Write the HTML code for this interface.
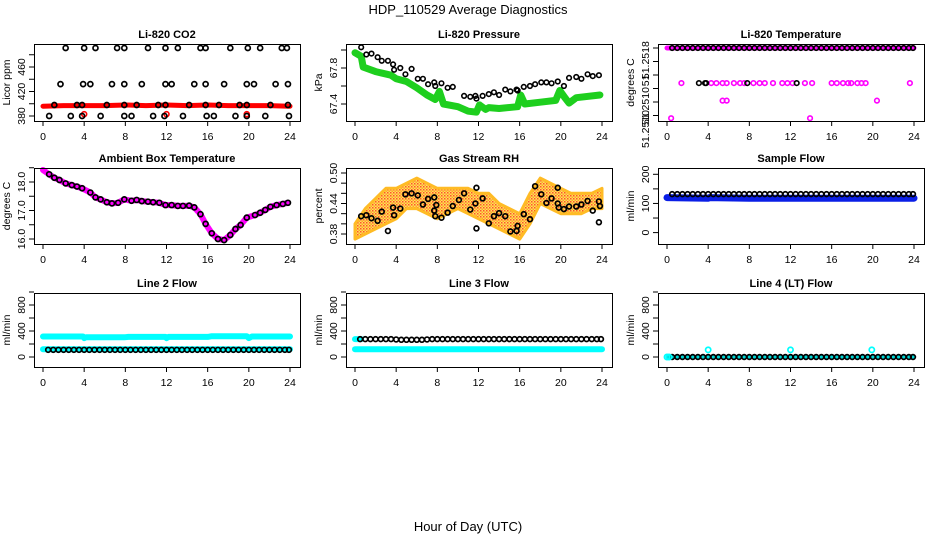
<!DOCTYPE html>
<html><head><meta charset="utf-8"><style>
html,body{margin:0;padding:0;background:#fff;}
svg{display:block;font-family:"Liberation Sans",sans-serif;}
</style></head><body>
<svg id="c" width="936" height="540" viewBox="0 0 936 540" xmlns="http://www.w3.org/2000/svg">
<defs>
<pattern id="rhpat" width="3" height="3" patternUnits="userSpaceOnUse"><rect width="3" height="3" fill="#ffd84a"/><rect width="1.5" height="1.5" fill="#ff3a00"/><rect x="1.5" y="1.5" width="1.5" height="1.5" fill="#ff9a00"/></pattern>
</defs>
<text x="468" y="14" text-anchor="middle" font-size="13">HDP_110529  Average Diagnostics</text>
<text x="468" y="531" text-anchor="middle" font-size="13">Hour of Day (UTC)</text>
</svg>
<script>
// ---------- data ----------
const hourTicks = [0,4,8,12,16,20,24];
// CO2
const co2TopHours = [2.2,4.0,5.1,7.2,7.9,10.2,11.9,13.1,15.3,15.8,18.2,19.9,21.1,23.2,23.7];
const co2MidHours = [1.7,3.9,4.6,6.7,7.9,9.6,11.9,12.5,14.7,15.8,17.6,19.8,20.5,22.6,23.8];
const co2LowHours = [1.1,3.3,3.8,6.2,7.9,9.1,11.2,11.9,14.2,15.8,17.1,19.1,19.8,22.1,23.8];
const co2BotHours = [0.6,2.7,3.8,5.6,7.9,8.6,10.7,11.8,13.6,15.9,16.6,18.7,19.8,21.6,23.9];
const co2Levels = [491,432,398,380];
const co2RedHours = [0,2,4,6,8,10,12,14,16,18,20,22,24];
const co2RedVals = [396,397,397,397,398,397,398,397,398,397,397,397,396];
const co2RedOutHours = [4.0,12.0,19.8];
const co2RedOutVals = [383,383,383];
// Pressure
const presHours = [0.6,1.1,1.6,2.2,2.6,3.2,3.7,3.8,4.4,4.9,5.5,6.1,6.6,7.1,7.7,7.8,8.4,9.0,9.5,10.6,11.2,11.7,11.8,12.4,13.0,13.5,14.0,14.6,15.1,15.7,15.8,16.4,17.0,17.5,18.1,18.6,19.1,19.7,20.3,20.8,21.5,22.0,22.6,23.1,23.7];
const presVals = [68.03,67.95,67.96,67.92,67.88,67.88,67.84,67.78,67.80,67.73,67.79,67.68,67.68,67.62,67.64,67.60,67.63,67.58,67.59,67.49,67.48,67.49,67.46,67.49,67.51,67.53,67.50,67.56,67.54,67.56,67.55,67.59,67.60,67.62,67.64,67.64,67.63,67.65,67.60,67.69,67.70,67.68,67.73,67.71,67.72];
const presGreenHours = [0,0.6,0.8,2,3.5,4,5,6,7,7.8,8.2,8.6,10,11,11.8,12.1,12.7,13,14,15.8,16.1,16.5,18,19.5,19.9,20.4,20.8,21.5,23.8];
const presGreenVals = [67.97,67.93,67.81,67.76,67.72,67.68,67.65,67.58,67.50,67.45,67.54,67.40,67.37,67.32,67.31,67.39,67.34,67.36,67.35,67.37,67.50,67.40,67.42,67.44,67.55,67.47,67.41,67.47,67.50];
// Temperature
const tempMagMidHours = [1.4,4.3,4.8,5.4,5.8,6.5,7.1,7.5,8.4,9.0,9.5,10.3,11.2,11.7,12.2,13.4,14.1,16.0,16.5,17.1,17.6,17.9,18.5,18.9,19.3,23.6];
const tempBlackMidHours = [3.1,3.7,3.8,7.8,12.6];
const tempLowHours = [5.4,5.8,20.4];
const tempBotHours = [0.4,13.9];
const tempLevels = [51.2518,51.25154,51.25141,51.25128];
const tempTickVals = [51.2518,51.2517,51.2516,51.2515,51.2514,51.2513];
const tempLabelVals = [51.25171,51.25156,51.25137,51.2512];
const tempLabelText = ["51.2518","51","51.2510","51.2510"];
// Ambient
const ambHours = [0.6,1.1,1.6,2.2,2.8,3.3,3.8,4.6,5.1,5.6,6.2,6.7,7.3,7.9,8.6,9.1,9.6,10.2,10.7,11.3,11.9,12.5,13.1,13.6,14.2,14.7,15.3,15.8,16.4,17.0,17.6,18.2,18.7,19.2,19.8,20.6,21.1,21.6,22.1,22.7,23.3,23.8];
const ambVals = [18.27,18.15,18.07,17.95,17.89,17.84,17.78,17.63,17.46,17.39,17.29,17.25,17.27,17.39,17.34,17.37,17.33,17.31,17.29,17.27,17.19,17.19,17.16,17.16,17.17,17.11,16.87,16.53,16.20,16.00,15.96,16.14,16.35,16.49,16.75,16.84,16.92,17.02,17.13,17.19,17.23,17.27];
// RH
const rhHours = [0.6,1.1,1.6,2.2,2.6,3.2,3.7,3.8,4.4,4.9,5.5,6.1,6.6,7.1,7.7,7.7,7.8,7.9,8.4,9.0,9.5,10.1,10.6,11.2,11.7,11.8,11.8,12.4,13.0,13.5,14.0,14.6,15.1,15.7,15.8,16.4,17.0,17.5,18.1,18.6,19.1,19.7,19.7,19.8,20.3,20.8,21.5,22.0,22.6,23.1,23.7,23.7,23.8];
const rhVals = [0.415,0.417,0.411,0.406,0.424,0.386,0.432,0.417,0.430,0.458,0.460,0.456,0.438,0.449,0.452,0.426,0.415,0.437,0.412,0.422,0.435,0.447,0.460,0.428,0.440,0.391,0.471,0.450,0.401,0.415,0.421,0.415,0.385,0.386,0.396,0.419,0.409,0.474,0.458,0.441,0.450,0.471,0.440,0.432,0.429,0.434,0.434,0.438,0.445,0.426,0.403,0.444,0.435];
const rhBandHours = [0,1,2,3,4,5,6,7,8,9,10,11,12,13,14,15,16,17,18,19,20,21,22,23,24];
const rhUpper = [0.40,0.43,0.45,0.47,0.47,0.48,0.49,0.48,0.47,0.47,0.47,0.47,0.46,0.46,0.44,0.43,0.42,0.46,0.49,0.48,0.47,0.46,0.46,0.46,0.47];
const rhLower = [0.37,0.38,0.39,0.40,0.41,0.43,0.43,0.42,0.41,0.42,0.43,0.42,0.41,0.40,0.39,0.38,0.37,0.40,0.44,0.43,0.42,0.42,0.42,0.43,0.43];
// Flows
const flowHours = [0.5,1,1.5,2,2.5,3,3.5,4,4.5,5,5.5,6,6.5,7,7.5,8,8.5,9,9.5,10,10.5,11,11.5,12,12.5,13,13.5,14,14.5,15,15.5,16,16.5,17,17.5,18,18.5,19,19.5,20,20.5,21,21.5,22,22.5,23,23.5,23.9];
const sampleBlack = [132,132,132,132,132,132,132,132,132,132,132,132,132,132,132,132,132,132,132,132,132,132,132,132,132,132,132,132,132,132,132,132,132,132,132,132,132,132,132,132,132,132,132,132,132,132,132,132];
const sampleBlueHours = [0,4,4.1,8,8.1,12,12.1,16,16.1,20,20.1,24];
const sampleBlueVals = [120,118,120,118,118,118,118,118,118,118,118,118];
const line2Black = [110,110,110,110,110,110,110,110,110,110,110,110,110,110,110,110,110,110,110,110,110,110,110,110,110,110,110,110,110,110,110,110,110,110,110,110,110,110,110,110,110,110,110,110,110,110,110,110];
const line2UpHours = [0,3.9,4.0,4.2,8,8.3,11.9,12.0,12.2,16,16.4,19.8,20.0,20.3,24];
const line2UpVals = [315,315,290,305,305,310,310,290,310,310,320,320,290,315,315];
const line2LowHours = [0,24];
const line2LowVals = [120,120];
const line3Black = [275,275,275,275,275,275,275,270,265,265,265,265,265,270,275,275,275,275,275,275,275,275,275,275,275,275,275,275,275,275,275,275,275,275,275,275,275,275,275,275,275,275,275,275,275,275,275,275];
const line3UpHours = [0,0.6];
const line3UpVals = [275,275];
const line3LowHours = [0,24];
const line3LowVals = [120,120];
const line4Black = [0,0,0,0,0,0,0,0,0,0,0,0,0,0,0,0,0,0,0,0,0,0,0,0,0,0,0,0,0,0,0,0,0,0,0,0,0,0,0,0,0,0,0,0,0,0,0,0];
const line4CyanHours = [0,0.2,4.0,12.0,19.9];
const line4CyanVals = [0,0,110,110,110];

// ---------- drawing ----------
const svg = document.getElementById('c');
const NS = 'http://www.w3.org/2000/svg';
function mk(tag, attrs, parent){
  const e = document.createElementNS(NS, tag);
  for (const k in attrs) e.setAttribute(k, attrs[k]);
  (parent||svg).appendChild(e);
  return e;
}
const rowsY = [[44,121],[168,244],[293,367]];
// anchors: value va at pixel pa, value vb at pixel pb
function panel(col,row,title,ylab,va,pa,vb,pb,yTicks,yLabels,name){
  const x0 = 34+312*col, x1 = x0+266;
  const [y0,y1] = rowsY[row];
  const g = mk('g',{});
  
  
  const P = {g,x0,x1,y0,y1};
  P.x = h => x0+9+h*(247/24);
  P.y = v => pa + (v-va)/(vb-va)*(pb-pa);
  const t = mk('text',{x:(x0+x1)/2,y:y0-6,'text-anchor':'middle','font-size':'11','font-weight':'bold'},g);
  t.textContent = title;
  
  
  const yl = mk('text',{x:0,y:0,'text-anchor':'middle','font-size':'10.5',transform:`translate(${x0-24},${(y0+y1)/2}) rotate(-90)`},g);
  yl.textContent = ylab;
  
  
  P.plot = mk('g',{},g);
  const box = mk('rect',{x:x0+0.5,y:y0+0.5,width:x1-x0,height:y1-y0,fill:'none',stroke:'#000','stroke-width':1},g);
  
  
  const xa = mk('g',{},g);
  
  
  hourTicks.forEach(h=>{
    mk('line',{x1:P.x(h),x2:P.x(h),y1:y1,y2:y1+5,stroke:'#000'},xa);
    const lt = mk('text',{x:P.x(h),y:y1+19,'text-anchor':'middle','font-size':'10.5'},xa);
    lt.textContent = h;
  });
  const ya = mk('g',{},g);
  
  
  yTicks.forEach(v=>{
    mk('line',{x1:x0-5,x2:x0,y1:P.y(v),y2:P.y(v),stroke:'#000'},ya);
  });
  yLabels.forEach(([v,s])=>{
    const lt = mk('text',{x:0,y:0,'text-anchor':'middle','font-size':'10.5',transform:`translate(${x0-9},${P.y(v)}) rotate(-90)`},ya);
    lt.textContent = s;
  });
  return P;
}
function band(P,hours,vals,color,w,name){
  const d = hours.map((h,i)=>(i?'L':'M')+P.x(h).toFixed(1)+' '+P.y(vals[i]).toFixed(1)).join(' ');
  const p = mk('path',{d,fill:'none',stroke:color,'stroke-width':w,'stroke-linecap':'round','stroke-linejoin':'round'},P.plot);
  
  
  return p;
}
function pts(P,hours,vals,color,r,sw,name){
  const g = mk('g',{},P.plot);
  
  
  hours.forEach((h,i)=>{
    mk('circle',{cx:P.x(h),cy:P.y(vals[i]),r:r,fill:'none',stroke:color,'stroke-width':sw},g);
  });
}
const rep = (arr,v)=>arr.map(()=>v);

// CO2
let P = panel(0,0,'Li-820 CO2','Licor ppm',380,116,460,67,[380,400,420,440,460,480],[[380,'380'],[420,'420'],[460,'460']],'co2');
band(P,co2RedHours,co2RedVals,'#ff0000',5,'co2-red-series');
pts(P,co2RedOutHours,co2RedOutVals,'#ff0000',2.5,1.6,'co2-red-outliers');
pts(P,co2TopHours,rep(co2TopHours,co2Levels[0]),'#000',2.5,1.7,'co2-points-491');
pts(P,co2MidHours,rep(co2MidHours,co2Levels[1]),'#000',2.5,1.7,'co2-points-432');
pts(P,co2LowHours,rep(co2LowHours,co2Levels[2]),'#000',2.5,1.7,'co2-points-398');
pts(P,co2BotHours,rep(co2BotHours,co2Levels[3]),'#000',2.5,1.7,'co2-points-380');

// Pressure
P = panel(1,0,'Li-820 Pressure','kPa',67.4,104,67.8,68,[67.4,67.6,67.8,68.0],[[67.4,'67.4'],[67.8,'67.8']],'pressure');
band(P,presGreenHours,presGreenVals,'#1ecf1e',7,'pressure-green-series');
pts(P,presHours,presVals,'#000',2.3,1.6,'pressure-black-points');

// Temperature
P = panel(2,0,'Li-820 Temperature','degrees C',51.2518,48,51.2513,115.5,tempTickVals,[],'temperature');
tempLabelVals.forEach((v,i)=>{
  const lt = mk('text',{x:0,y:0,'text-anchor':'middle','font-size':'10.5',transform:`translate(${P.x0-9},${P.y(v)}) rotate(-90)`},P.g);
  lt.textContent = tempLabelText[i];
  
  
});
band(P,[0,24],[tempLevels[0],tempLevels[0]],'#ff00ff',5,'temperature-magenta-top');
pts(P,flowHours,rep(flowHours,tempLevels[0]),'#000',2.3,1.6,'temperature-black-top');
pts(P,tempMagMidHours,rep(tempMagMidHours,tempLevels[1]),'#ff00ff',2.3,1.6,'temperature-magenta-mid');
pts(P,tempBlackMidHours,rep(tempBlackMidHours,tempLevels[1]),'#000',2.3,1.6,'temperature-black-mid');
pts(P,tempLowHours,rep(tempLowHours,tempLevels[2]),'#ff00ff',2.3,1.6,'temperature-magenta-low');
pts(P,tempBotHours,rep(tempBotHours,tempLevels[3]),'#ff00ff',2.3,1.6,'temperature-magenta-bottom');

// Ambient
P = panel(0,1,'Ambient Box Temperature','degrees C',16.0,239,18.0,182,[16.0,16.5,17.0,17.5,18.0,18.5],[[16.0,'16.0'],[17.0,'17.0'],[18.0,'18.0']],'ambient');
band(P,[0].concat(ambHours),[18.42].concat(ambVals),'#ff00ff',6,'ambient-magenta-series');
pts(P,ambHours,ambVals,'#000',2.5,1.7,'ambient-black-points');

// RH
P = panel(1,1,'Gas Stream RH','percent',0.38,234,0.50,173,[0.38,0.40,0.42,0.44,0.46,0.48,0.50],[[0.38,'0.38'],[0.44,'0.44'],[0.50,'0.50']],'rh');
{
  let d = rhBandHours.map((h,i)=>(i?'L':'M')+P.x(h).toFixed(1)+' '+P.y(rhUpper[i]).toFixed(1)).join(' ');
  for (let i=rhBandHours.length-1;i>=0;i--) d += ' L'+P.x(rhBandHours[i]).toFixed(1)+' '+P.y(rhLower[i]).toFixed(1);
  const p = mk('path',{d:d+' Z',fill:'url(#rhpat)',stroke:'#ffb000','stroke-width':3,'stroke-linejoin':'round',opacity:0.85},P.plot);
  
  
}
pts(P,rhHours,rhVals,'#000',2.4,1.7,'rh-black-points');

// Sample flow
P = panel(2,1,'Sample Flow','ml/min',0,232.6,200,174.3,[0,50,100,150,200],[[0,'0'],[100,'100'],[200,'200']],'sample-flow');
band(P,sampleBlueHours,sampleBlueVals,'#0a1ee6',7,'sample-flow-blue-series');
pts(P,flowHours,sampleBlack,'#000',2.4,1.7,'sample-flow-black-points');

function flowPanel(col,title,name){
  return panel(col,2,title,'ml/min',0,357,400,331,[0,200,400,600,800,1000],[[0,'0'],[400,'400'],[800,'800']],name);
}
P = flowPanel(0,'Line 2 Flow','line2-flow');
band(P,line2UpHours,line2UpVals,'#00ffff',6,'line2-cyan-upper');
band(P,line2LowHours,line2LowVals,'#00ffff',6,'line2-cyan-lower');
pts(P,flowHours,line2Black,'#000',2.4,1.7,'line2-black-points');

P = flowPanel(1,'Line 3 Flow','line3-flow');
band(P,line3UpHours,line3UpVals,'#00ffff',6,'line3-cyan-upper');
band(P,line3LowHours,line3LowVals,'#00ffff',6,'line3-cyan-lower');
pts(P,flowHours,line3Black,'#000',2.4,1.7,'line3-black-points');

P = flowPanel(2,'Line 4 (LT) Flow','line4-flow');
band(P,[0,24],[0,0],'#00d8d8',3,'line4-cyan-series');
pts(P,flowHours,line4Black,'#000',2.4,1.7,'line4-black-points');
pts(P,line4CyanHours,line4CyanVals,'#00ffff',2.6,1.7,'line4-cyan-points');
</script>
</body></html>
